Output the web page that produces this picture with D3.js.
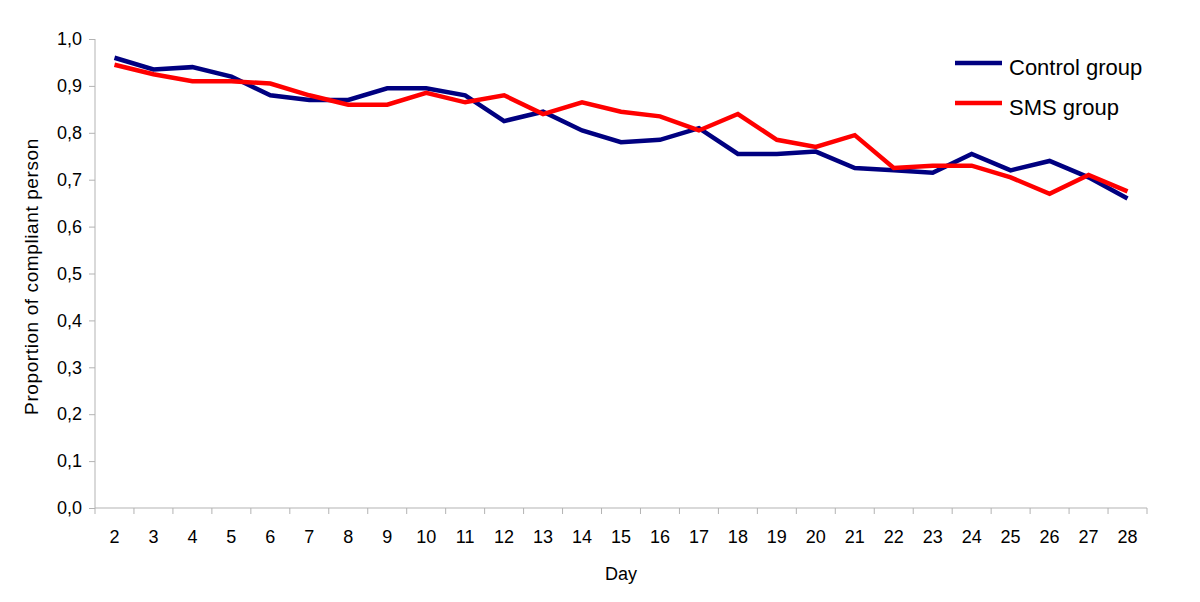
<!DOCTYPE html>
<html>
<head>
<meta charset="utf-8">
<script src="https://cdn.jsdelivr.net/npm/d3@7"></script>
<style>
  html, body { margin: 0; padding: 0; background: #fff; }
  svg { display: block; font-family: "Liberation Sans", Arial, sans-serif; }
</style>
</head>
<body>
<svg id="chart" width="1200" height="602"></svg>
<script>
const days = [2,3,4,5,6,7,8,9,10,11,12,13,14,15,16,17,18,19,20,21,22,23,24,25,26,27,28];
const controlGroup = [0.96,0.935,0.94,0.92,0.88,0.87,0.87,0.895,0.895,0.88,0.825,0.845,0.805,0.78,0.785,0.81,0.755,0.755,0.76,0.725,0.72,0.715,0.755,0.72,0.74,0.705,0.66];
const smsGroup = [0.945,0.925,0.91,0.91,0.905,0.88,0.86,0.86,0.885,0.865,0.88,0.84,0.865,0.845,0.835,0.805,0.84,0.785,0.77,0.795,0.725,0.73,0.73,0.705,0.67,0.71,0.675];
const yTicks = [0,0.1,0.2,0.3,0.4,0.5,0.6,0.7,0.8,0.9,1.0];
const seriesNames = ["Control group", "SMS group"];
const seriesColors = ["#000080", "#ff0000"];

const svg = d3.select("#chart");
const mLeft = 95, mRight = 1147, mTop = 39, mBottom = 508;
const axisColor = "#b3b3b3";

const x = d3.scaleBand().domain(days).range([mLeft, mRight]).paddingInner(0).paddingOuter(0);
const y = d3.scaleLinear().domain([0, 1]).range([mBottom, mTop]);

// Y axis
const yAxis = svg.append("g").attr("transform", `translate(${mLeft},0)`)
  .call(d3.axisLeft(y).tickValues(yTicks).tickSize(6).tickPadding(7)
    .tickFormat(d => d3.format(".1f")(d).replace(".", ",")));
yAxis.select(".domain").attr("stroke", axisColor).attr("d", `M0,${mTop}V${mBottom}`);
yAxis.selectAll(".tick line").attr("stroke", axisColor);
yAxis.selectAll(".tick text").attr("font-size", 18).attr("fill", "#000")
  .attr("font-family", "Liberation Sans, Arial, sans-serif");

// X axis
const xAxis = svg.append("g").attr("transform", `translate(0,${mBottom})`)
  .call(d3.axisBottom(x).tickSize(0).tickPadding(22));
xAxis.select(".domain").attr("stroke", axisColor).attr("d", `M${mLeft},0H${mRight}`);
xAxis.selectAll(".tick text").attr("font-size", 18).attr("fill", "#000")
  .attr("font-family", "Liberation Sans, Arial, sans-serif");
const boundaries = days.map(d => x(d)).concat([mRight]);
xAxis.selectAll(".bound").data(boundaries).enter().append("line")
  .attr("x1", d => d).attr("x2", d => d).attr("y1", 0).attr("y2", 6)
  .attr("stroke", axisColor);

// Axis titles
svg.append("text").attr("x", (mLeft + mRight) / 2).attr("y", 580)
  .attr("text-anchor", "middle").attr("font-size", 18).text("Day");
svg.append("text").attr("transform", `translate(38,${(mTop + mBottom) / 2 + 3}) rotate(-90)`)
  .attr("text-anchor", "middle").attr("font-size", 19).attr("letter-spacing", 0.6)
  .text("Proportion of compliant person");

// Lines
const line = d3.line().x((d, i) => x(days[i]) + x.bandwidth() / 2).y(d => y(d));
[controlGroup, smsGroup].forEach((s, k) => {
  svg.append("path").datum(s).attr("d", line)
    .attr("fill", "none").attr("stroke", seriesColors[k])
    .attr("stroke-width", 4.5).attr("stroke-linejoin", "miter");
});

// Legend
const legend = svg.append("g");
seriesNames.forEach((n, k) => {
  const ly = 63 + k * 40;
  legend.append("line").attr("x1", 955).attr("x2", 1002).attr("y1", ly).attr("y2", ly)
    .attr("stroke", seriesColors[k]).attr("stroke-width", 4.5);
  legend.append("text").attr("x", 1009).attr("y", ly + 12).attr("font-size", 22).text(n);
});
</script>
</body>
</html>
